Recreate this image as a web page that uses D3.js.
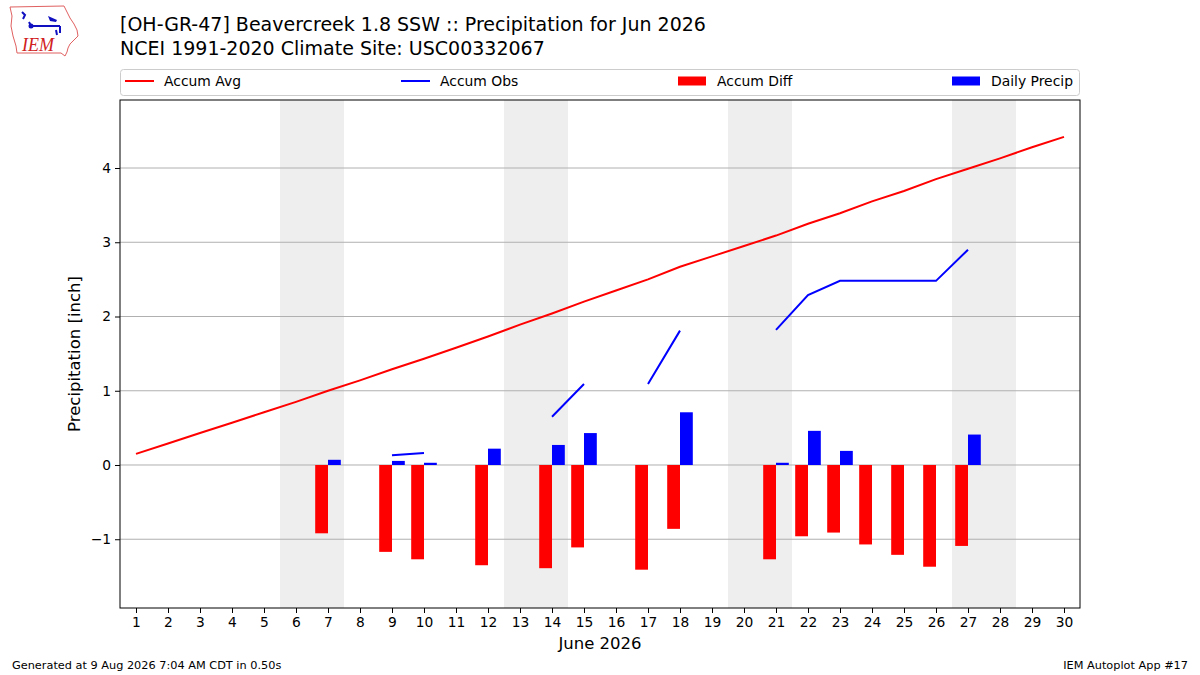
<!DOCTYPE html>
<html>
<head>
<meta charset="utf-8">
<script src="https://cdn.jsdelivr.net/npm/d3@7"></script>
<style>
  body { margin: 0; background: #fff; }
  svg { font-family: "DejaVu Sans", sans-serif; }
</style>
</head>
<body>
<div id="chart"></div>
<script>
const days = d3.range(1, 31);
const accumAvg = [0.15, 0.29, 0.43, 0.57, 0.71, 0.85, 1.00, 1.14, 1.29, 1.43,
                  1.58, 1.73, 1.89, 2.04, 2.20, 2.35, 2.50, 2.67, 2.81, 2.95,
                  3.09, 3.25, 3.39, 3.55, 3.69, 3.85, 3.99, 4.13, 4.28, 4.42];
// null = no observation that day
const accumObs = [null, null, null, null, null, null, 0.07, null, 0.13, 0.16,
                  null, 0.38, null, 0.65, 1.09, null, 1.09, 1.81, null, null,
                  1.82, 2.29, 2.48, 2.48, 2.48, 2.48, 2.90, null, null, null];
const accumDiff = [null, null, null, null, null, null, -0.92, null, -1.17, -1.27,
                   null, -1.35, null, -1.39, -1.11, null, -1.41, -0.86, null, null,
                   -1.27, -0.96, -0.91, -1.07, -1.21, -1.37, -1.09, null, null, null];
const dailyPrecip = [null, null, null, null, null, null, 0.07, null, 0.055, 0.03,
                     null, 0.22, null, 0.27, 0.43, null, null, 0.71, null, null,
                     0.03, 0.46, 0.19, null, null, null, 0.41, null, null, null];
const weekends = [[6, 7], [13, 14], [20, 21], [27, 28]];
const yTicks = [-1, 0, 1, 2, 3, 4];

const width = 1200, height = 675;
const plotLeft = 120, plotRight = 1080, plotTop = 100, plotBottom = 608;

const svg = d3.select("#chart").append("svg")
    .attr("width", width)
    .attr("height", height);

let x = d3.scaleLinear().domain([0.5, 30.5]).range([plotLeft, plotRight]);
let y = d3.scaleLinear().domain([-1.926, 4.916]).range([plotBottom, plotTop]);

// weekend shading
svg.selectAll(".wk").data(weekends).enter().append("rect")
    .attr("x", d => x(d[0] - 0.5))
    .attr("width", d => x(d[1] + 0.5) - x(d[0] - 0.5))
    .attr("y", plotTop)
    .attr("height", plotBottom - plotTop)
    .attr("fill", "#eeeeee");

// grid
svg.append("g").selectAll("line").data(yTicks).enter().append("line")
    .attr("x1", plotLeft).attr("x2", plotRight)
    .attr("y1", d => y(d)).attr("y2", d => y(d))
    .attr("stroke", "#b0b0b0").attr("stroke-width", 1);

// bars
const barW = 0.4;
svg.append("g").selectAll("rect")
    .data(days.filter((d, i) => accumDiff[i] !== null))
    .enter().append("rect")
    .attr("x", d => x(d - barW))
    .attr("width", x(barW) - x(0))
    .attr("y", d => y(Math.max(0, accumDiff[d - 1])))
    .attr("height", d => Math.abs(y(accumDiff[d - 1]) - y(0)))
    .attr("fill", "#ff0000");

svg.append("g").selectAll("rect")
    .data(days.filter((d, i) => dailyPrecip[i] !== null))
    .enter().append("rect")
    .attr("x", d => x(d))
    .attr("width", x(barW) - x(0))
    .attr("y", d => y(dailyPrecip[d - 1]))
    .attr("height", d => y(0) - y(dailyPrecip[d - 1]))
    .attr("fill", "#0000ff");

// lines
let avgLine = d3.line().x((d, i) => x(days[i])).y(d => y(d));
svg.append("path").datum(accumAvg)
    .attr("d", avgLine)
    .attr("fill", "none").attr("stroke", "#ff0000").attr("stroke-width", 2);

let obsLine = d3.line().defined(d => d !== null).x((d, i) => x(days[i])).y(d => y(d));
svg.append("path").datum(accumObs)
    .attr("d", obsLine)
    .attr("fill", "none").attr("stroke", "#0000ff").attr("stroke-width", 2);

// frame
svg.append("rect")
    .attr("x", plotLeft).attr("y", plotTop)
    .attr("width", plotRight - plotLeft).attr("height", plotBottom - plotTop)
    .attr("fill", "none").attr("stroke", "#000").attr("stroke-width", 1);

// axes
let xAxis = d3.axisBottom(x).tickValues(days).tickSize(5).tickPadding(4);
let gx = svg.append("g")
    .attr("transform", "translate(0," + plotBottom + ")")
    .call(xAxis);
gx.select(".domain").remove();
gx.selectAll("text").attr("font-size", "13.8px").attr("fill", "#000").attr("font-family", "DejaVu Sans");

let yAxis = d3.axisLeft(y).tickValues(yTicks).tickSize(5).tickPadding(4)
    .tickFormat(d => d < 0 ? "\u2212" + Math.abs(d) : d);
let gy = svg.append("g")
    .attr("transform", "translate(" + plotLeft + ",0)")
    .call(yAxis);
gy.select(".domain").remove();
gy.selectAll("text").attr("font-size", "13.8px").attr("fill", "#000").attr("font-family", "DejaVu Sans");

// axis labels
svg.append("text")
    .attr("transform", "rotate(-90)")
    .attr("x", -(plotTop + plotBottom) / 2)
    .attr("y", 80)
    .attr("text-anchor", "middle")
    .attr("font-size", "16.5px")
    .text("Precipitation [inch]");

svg.append("text")
    .attr("x", (plotLeft + plotRight) / 2)
    .attr("y", 649)
    .attr("text-anchor", "middle")
    .attr("font-size", "16.5px")
    .text("June 2026");

// titles
svg.append("text").attr("x", 120).attr("y", 31)
    .attr("font-size", "19px")
    .text("[OH-GR-47] Beavercreek 1.8 SSW :: Precipitation for Jun 2026");
svg.append("text").attr("x", 120).attr("y", 55)
    .attr("font-size", "19px")
    .text("NCEI 1991-2020 Climate Site: USC00332067");

// legend
svg.append("rect")
    .attr("x", 120.5).attr("y", 69.5)
    .attr("width", 959).attr("height", 26)
    .attr("rx", 3)
    .attr("fill", "#fff").attr("stroke", "#cccccc");

const legendItems = [
    { label: "Accum Avg", kind: "line", color: "#ff0000", x: 125 },
    { label: "Accum Obs", kind: "line", color: "#0000ff", x: 401 },
    { label: "Accum Diff", kind: "patch", color: "#ff0000", x: 678 },
    { label: "Daily Precip", kind: "patch", color: "#0000ff", x: 952 }
];
legendItems.forEach(item => {
    if (item.kind === "line") {
        svg.append("line")
            .attr("x1", item.x).attr("x2", item.x + 29)
            .attr("y1", 81).attr("y2", 81)
            .attr("stroke", item.color).attr("stroke-width", 2);
    } else {
        svg.append("rect")
            .attr("x", item.x).attr("y", 76.5)
            .attr("width", 28).attr("height", 9)
            .attr("fill", item.color);
    }
    svg.append("text")
        .attr("x", item.x + 39).attr("y", 86)
        .attr("font-size", "13.9px")
        .text(item.label);
});

// footer
svg.append("text").attr("x", 12).attr("y", 669)
    .attr("font-size", "11.3px")
    .text("Generated at 9 Aug 2026 7:04 AM CDT in 0.50s");
svg.append("text").attr("x", 1188).attr("y", 669)
    .attr("text-anchor", "end")
    .attr("font-size", "11.3px")
    .text("IEM Autoplot App #17");

// logo (rough Iowa outline + IEM)
let logo = svg.append("g");
logo.append("path")
    .attr("d", "M10,7 L64,6 L66,10 L70,18 L74,24 L77,30 L78,36 L74,40 L70,44 L68,48 L67,52 L65,56 L61,53 L17,53 L16,46 L13,36 L11,26 L12,16 Z")
    .attr("fill", "none").attr("stroke", "#e06060").attr("stroke-width", 1);
logo.append("path")
    .attr("d", "M22,12 L25,15 L23,19 M31,26 L60,26 M60,26 L60,33 M56,30 L57,35 M29,22 L31,26")
    .attr("fill", "none").attr("stroke", "#1010c0").attr("stroke-width", 2);
logo.append("path")
    .attr("d", "M48,16 L57,20 L56,22 L50,21 Z")
    .attr("fill", "#1010c0");
logo.append("circle").attr("cx", 31).attr("cy", 26).attr("r", 2.5).attr("fill", "#1010c0");
logo.append("text")
    .attr("x", 22).attr("y", 51)
    .attr("font-family", "Liberation Serif, serif")
    .attr("font-style", "italic")
    .attr("font-size", "18px")
    .attr("fill", "#d02020")
    .text("IEM");
</script>
</body>
</html>
